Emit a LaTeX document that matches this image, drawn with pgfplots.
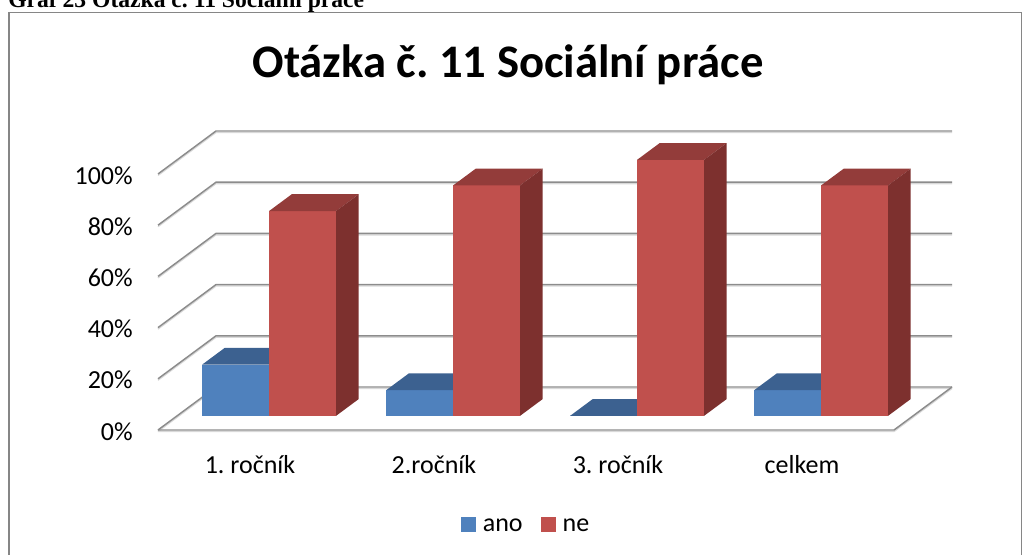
\documentclass[border=0pt]{standalone}
\usepackage{pgfplots}
\pgfplotsset{compat=1.18}
\usepackage{pgfplotstable}
\usepackage{fontspec}
\setmainfont{Carlito}
\newfontfamily\capfont{Liberation Serif}
\definecolor{blueF}{HTML}{4F81BD}
\definecolor{blueT}{HTML}{3C6190}
\definecolor{blueS}{HTML}{335480}
\definecolor{redF}{HTML}{C0504D}
\definecolor{redT}{HTML}{933C3A}
\definecolor{redS}{HTML}{7D302E}
\definecolor{gridc}{HTML}{8C8C8C}
\definecolor{framec}{HTML}{868686}

\pgfplotstableread{
pos ano ne
1 20 80
2 10 90
3 0 100
4 10 90
}\datatable

\newcommand\dfront{0.33}
\newcommand\dback{0.72}
\newcommand\bw{0.364}

% #1 left x, #2 right x, #3 value, #4 front, #5 top, #6 side
\newcommand\cube[6]{%
  \addplot3[fill=#4, draw=none, forget plot] coordinates {(#1,\dfront,0) (#2,\dfront,0) (#2,\dfront,#3) (#1,\dfront,#3)} --cycle;
  \addplot3[fill=#5, draw=none, forget plot] coordinates {(#1,\dfront,#3) (#2,\dfront,#3) (#2,\dback,#3) (#1,\dback,#3)} --cycle;
  \addplot3[fill=#6, draw=none, forget plot] coordinates {(#2,\dfront,0) (#2,\dback,0) (#2,\dback,#3) (#2,\dfront,#3)} --cycle;
}

\begin{document}
\frenchspacing
\begin{tikzpicture}
\begin{axis}[
  x={(138pt,0pt)}, y={(43.5pt,32.25pt)}, z={(0pt,1.92pt)},
  xmin=0.5, xmax=4.5, ymin=0, ymax=1, zmin=0, zmax=100,
  hide axis, clip=false,
  legend columns=2,
  legend style={draw=none, fill=none, at={(axis cs:2.495,0,-37.3)}, anchor=center,
    font=\fontsize{19.5}{20}\selectfont,
    nodes={inner sep=0pt},
    /tikz/every odd column/.append style={column sep=5.25pt},
    /tikz/every even column/.append style={column sep=13.5pt}},
  legend image code/.code={\path[#1] (0pt,-4.6pt) rectangle (11.25pt,6.6pt);},
]
% walls and floor
\pgfplotsinvokeforeach{0,20,...,100}{%
  \addplot3[color=gray!30, line width=1pt, yshift=-1.1pt, forget plot] coordinates {(0.5,0,#1) (0.5,1,#1) (4.5,1,#1)};
  \addplot3[color=gridc, line width=1.1pt, forget plot] coordinates {(0.5,0,#1) (0.5,1,#1) (4.5,1,#1)};
  \node[anchor=east, inner sep=0pt, xshift=-18.75pt, yshift=-1pt, font=\fontsize{19.5}{20}\selectfont] at (axis cs:0.5,0,#1) {#1\%};
}
\addplot3[color=gray!30, line width=1pt, yshift=-1.1pt, forget plot] coordinates {(0.5,0,0) (4.5,0,0) (4.5,1,0)};
\addplot3[color=gridc, line width=1.1pt, forget plot] coordinates {(0.5,0,0) (4.5,0,0) (4.5,1,0)};
% bars
\pgfplotsforeachungrouped \r in {0,1,2,3}{%
  \pgfplotstablegetelem{\r}{pos}\of\datatable \let\p\pgfplotsretval
  \pgfplotstablegetelem{\r}{ano}\of\datatable \let\va\pgfplotsretval
  \pgfplotstablegetelem{\r}{ne}\of\datatable \let\vn\pgfplotsretval
  \pgfmathsetmacro\xl{\p-\bw}
  \pgfmathsetmacro\xr{\p+\bw}
  \cube{\xl}{\p}{\va}{blueF}{blueT}{blueS}
  \cube{\p}{\xr}{\vn}{redF}{redT}{redS}
}
\addlegendimage{fill=blueF, draw=none}
\addlegendentry{ano}
\addlegendimage{fill=redF, draw=none}
\addlegendentry{ne}
% category labels
\node[anchor=base, inner sep=0pt, font=\fontsize{19.5}{20}\selectfont] at (axis cs:1,0,-16.8) {1. ročník};
\node[anchor=base, inner sep=0pt, font=\fontsize{19.5}{20}\selectfont] at (axis cs:2,0,-16.8) {2.ročník};
\node[anchor=base, inner sep=0pt, font=\fontsize{19.5}{20}\selectfont] at (axis cs:3,0,-16.8) {3. ročník};
\node[anchor=base, inner sep=0pt, font=\fontsize{19.5}{20}\selectfont] at (axis cs:4,0,-16.8) {celkem};
\coordinate (O) at (axis cs:0.5,0,0);
\end{axis}
\path (O) ++(-118.5pt,322.5pt) coordinate (TL);
\pgfresetboundingbox
\path[use as bounding box] (TL) rectangle ++(768pt,-416.25pt);
\begin{scope}[shift={(TL)}, x=0.75pt, y=-0.75pt]
  \draw[framec, line width=1.1pt] (9,565) -- (9,12.5) -- (1021.5,12.5) -- (1021.5,565);
  \node[anchor=base, inner sep=0pt, font=\bfseries\fontsize{35}{36}\selectfont] at (508,78) {Otázka č. 11 Sociální práce};
  \node[anchor=base west, inner sep=0pt, font=\capfont\bfseries\fontsize{17.7}{18}\selectfont] at (8,7.5) {Graf 23 Otázka č. 11 Sociální práce};
\end{scope}
\end{tikzpicture}
\end{document}
